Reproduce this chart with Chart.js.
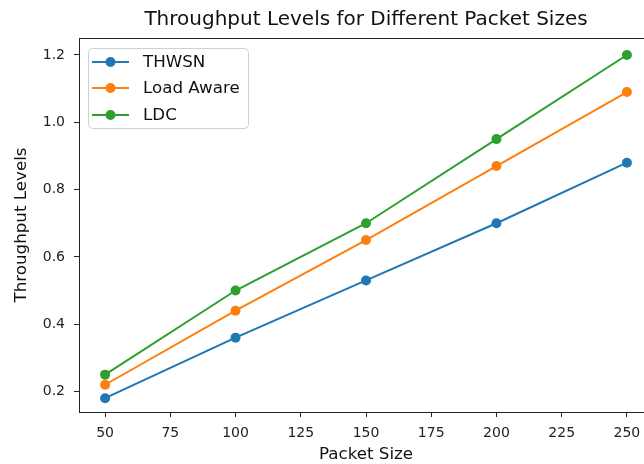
<!DOCTYPE html>
<html>
<head>
<meta charset="utf-8">
<script src="https://cdn.jsdelivr.net/npm/chart.js@4.4.1/dist/chart.umd.min.js"></script>
<style>
  html, body { margin: 0; padding: 0; background: #fff; overflow: hidden; }
  #wrap { width: 660px; height: 464px; }
</style>
</head>
<body>
<div id="wrap"><canvas id="chart" width="660" height="464"></canvas></div>
<script>
// Datos
const packetSizes = [50, 100, 150, 200, 250];
const thwsn = [0.18, 0.36, 0.53, 0.70, 0.88];
const loadAware = [0.22, 0.44, 0.65, 0.87, 1.09];
const ldc = [0.25, 0.50, 0.70, 0.95, 1.20];
const xTickStep = 25;
const yTickStep = 0.2;

const FONT = "'DejaVu Sans', sans-serif";

function toPoints(values) {
    return packetSizes.map((x, i) => ({ x: x, y: values[i] }));
}

function makeDataset(label, values, color) {
    return {
        label: label,
        data: toPoints(values),
        borderColor: color,
        backgroundColor: color,
        borderWidth: 2,
        pointRadius: 5,
        pointHoverRadius: 5,
        pointBorderWidth: 0,
        tension: 0
    };
}

// Marco, titulos y leyenda al estilo matplotlib
const framePlugin = {
    id: 'frame',
    afterDraw(chart) {
        const ctx = chart.ctx;
        const a = chart.chartArea;
        ctx.save();
        ctx.strokeStyle = '#222';
        ctx.lineWidth = 1;
        ctx.strokeRect(a.left + 0.5, a.top + 0.5, a.right - a.left - 1, a.bottom - a.top);

        const cx = (a.left + a.right) / 2;
        ctx.fillStyle = '#111';
        ctx.textAlign = 'center';
        ctx.textBaseline = 'middle';
        ctx.font = '20px ' + FONT;
        ctx.fillText('Throughput Levels for Different Packet Sizes', cx, 20);
        ctx.font = '16.7px ' + FONT;
        ctx.fillText('Packet Size', cx, 455);
        ctx.save();
        ctx.translate(22, (a.top + a.bottom) / 2);
        ctx.rotate(-Math.PI / 2);
        ctx.fillText('Throughput Levels', 0, 0);
        ctx.restore();

        // leyenda
        const lx = 88, ly = 48, lw = 160, lh = 80, r = 4;
        ctx.fillStyle = 'rgba(255,255,255,0.8)';
        ctx.strokeStyle = '#d0d0d0';
        ctx.beginPath();
        ctx.roundRect(lx + 0.5, ly + 0.5, lw, lh, r);
        ctx.fill();
        ctx.stroke();
        const rows = [62, 88, 115];
        chart.data.datasets.forEach((ds, i) => {
            const y = rows[i];
            ctx.strokeStyle = ds.borderColor;
            ctx.lineWidth = 2;
            ctx.beginPath();
            ctx.moveTo(92, y);
            ctx.lineTo(129, y);
            ctx.stroke();
            ctx.fillStyle = ds.borderColor;
            ctx.beginPath();
            ctx.arc(110.5, y, 5, 0, Math.PI * 2);
            ctx.fill();
            ctx.fillStyle = '#111';
            ctx.textAlign = 'left';
            ctx.font = '16.7px ' + FONT;
            ctx.fillText(ds.label, 143, y + 1);
        });
        ctx.restore();
    }
};

const chart = new Chart(document.getElementById('chart').getContext('2d'), {
    type: 'line',
    data: {
        datasets: [
            makeDataset('THWSN', thwsn, '#1f77b4'),
            makeDataset('Load Aware', loadAware, '#ff7f0e'),
            makeDataset('LDC', ldc, '#2ca02c')
        ]
    },
    options: {
        responsive: false,
        animation: false,
        layout: { padding: { left: 0, top: 38, right: 7, bottom: 0 } },
        plugins: {
            legend: { display: false },
            title: { display: false },
            tooltip: { enabled: false }
        },
        scales: {
            x: {
                type: 'linear',
                min: 40,
                max: 260,
                afterFit(scale) { scale.height = 52; },
                border: { display: false },
                grid: { drawOnChartArea: false, drawTicks: true, tickLength: 5, tickColor: '#222' },
                ticks: {
                    stepSize: xTickStep,
                    includeBounds: false,
                    maxRotation: 0,
                    autoSkip: false,
                    padding: 8,
                    color: '#222',
                    font: { family: FONT, size: 14 }
                }
            },
            y: {
                type: 'linear',
                min: 0.139,
                max: 1.2505,
                afterFit(scale) { scale.width = 79; },
                border: { display: false },
                grid: { drawOnChartArea: false, drawTicks: true, tickLength: 5, tickColor: '#222' },
                ticks: {
                    stepSize: yTickStep,
                    includeBounds: false,
                    padding: 9,
                    color: '#222',
                    font: { family: FONT, size: 14 },
                    callback: (v) => v.toFixed(1)
                }
            }
        }
    },
    plugins: [framePlugin]
});
</script>
</body>
</html>
